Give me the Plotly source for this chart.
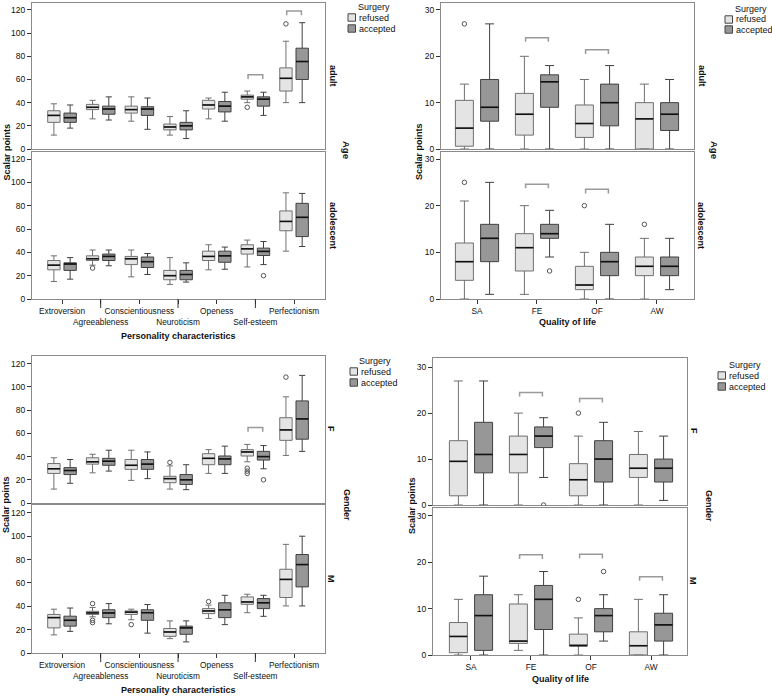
import plotly.graph_objects as go

# ---------------- data ----------------
pers_cats = ["Extroversion", "Agreeableness", "Conscientiousness", "Neuroticism",
             "Openess", "Self-esteem", "Perfectionism"]
qol_cats = ["SA", "FE", "OF", "AW"]

# stats per category: (lower whisker, Q1, median, Q3, upper whisker)
adult_pers_refused = [(12, 23, 29, 33, 39), (26, 34, 36, 38.5, 42), (24, 31, 34, 37, 45),
                      (12, 16.5, 19, 21.5, 28), (26, 34.5, 38, 42, 44), (40, 43, 45, 46.5, 50),
                      (40, 50, 61, 70, 93)]
adult_pers_accepted = [(18, 23, 27, 31, 38), (25, 30, 34.5, 37, 45), (17, 29, 34.5, 36.5, 44),
                       (9, 16.5, 20, 23, 33), (24, 32, 37, 41, 49), (29, 37, 43, 45, 49),
                       (40, 60, 75.5, 87, 109)]
adult_pers_refused_out = [(5, 36), (6, 108)]
adult_pers_accepted_out = []
adult_pers_brackets = [(5, 64), (6, 119)]

adol_pers_refused = [(15, 25, 29, 33, 37), (29, 33, 34.5, 37, 42), (19, 29.5, 34.5, 36.5, 42),
                     (12.5, 16.5, 20, 24.5, 35.5), (25, 33, 36.5, 41, 46.5),
                     (27.5, 38.5, 43, 46.5, 50.5), (41, 58.5, 66.5, 75.5, 91)]
adol_pers_accepted = [(17, 24.5, 30, 31, 35.5), (28.5, 33, 36.5, 38.5, 42), (21, 27, 32, 36, 39),
                      (14.5, 16.5, 21, 24.5, 31), (25.5, 31.5, 37, 41, 44.5),
                      (29.5, 37.3, 40.8, 43.6, 49.3), (45, 53.5, 70, 82, 90.5)]
adol_pers_refused_out = [(1, 26.5)]
adol_pers_accepted_out = [(5, 20)]
adol_pers_brackets = []

adult_qol_refused = [(0, 0.6, 4.5, 10.5, 14), (0, 3, 7.5, 12, 20), (0, 2.5, 5.5, 9.5, 15), (0, 0, 6.5, 10, 14)]
adult_qol_accepted = [(0, 6, 9, 15, 27), (0, 9, 14.5, 16, 18), (0, 5, 10, 14, 18), (0, 4, 7.5, 10, 15)]
adult_qol_refused_out = [(0, 27)]
adult_qol_accepted_out = []
adult_qol_brackets = [(1, 24), (2, 21.4)]

adol_qol_refused = [(0, 4, 8, 12, 21), (1, 6, 11, 14, 20), (0, 2, 3, 7, 10), (0, 5, 7, 9, 13)]
adol_qol_accepted = [(1, 8, 13, 16, 25), (9, 13, 14, 16, 19), (0, 5, 8, 10, 16), (2, 5, 7, 9, 13)]
adol_qol_refused_out = [(0, 25), (2, 20), (3, 16)]
adol_qol_accepted_out = [(1, 6)]
adol_qol_brackets = [(1, 24.6), (2, 23.5)]

f_pers_refused = [(12, 25.5, 29.5, 34, 39), (26, 33.5, 35.5, 39, 42), (19.5, 29, 32.5, 37.5, 45.5),
                  (12, 17.5, 21, 23, 32), (25.5, 33, 38.5, 42.5, 46), (35.5, 40.5, 44, 46, 50.5),
                  (41, 54, 63, 73.5, 91.5)]
f_pers_accepted = [(17, 24.5, 28, 30.5, 37.5), (27.5, 32.5, 36, 38.5, 45.5), (21, 29, 33.5, 37.5, 44),
                   (11.5, 16, 20, 24.5, 33), (25.5, 33, 38, 40.5, 49), (29.5, 37, 40, 44.5, 49.5),
                   (44.5, 55, 72.5, 88, 110)]
f_pers_refused_out = [(3, 35), (5, 30), (5, 27.5), (5, 25.5), (6, 108.5)]
f_pers_accepted_out = [(5, 20)]
f_pers_brackets = [(5, 65)]

m_pers_refused = [(15.5, 21.5, 30.3, 33, 37.5), (31, 33, 34.3, 35.7, 39), (28.5, 33, 35, 36, 37.5),
                  (12.3, 14.3, 18, 21, 27.5), (29.5, 33.7, 36, 38, 41), (34.5, 41.7, 43.7, 48, 50.3),
                  (40.3, 47.5, 63, 71.7, 93)]
m_pers_accepted = [(18.5, 23, 28, 31.5, 38.5), (25, 30.3, 34.3, 37, 42.3), (17, 28, 34.5, 37, 41.5),
                   (9.5, 16, 21.5, 23, 27.5), (24.3, 30.3, 37, 43, 49.4), (31.4, 38, 43, 46.6, 49.4),
                   (40.3, 56.6, 75.7, 84.3, 100)]
m_pers_refused_out = [(1, 42.3), (1, 28), (1, 26), (2, 24.3), (4, 44)]
m_pers_accepted_out = []
m_pers_brackets = []

f_qol_refused = [(0, 2, 9.5, 14, 27), (0, 7, 11, 15, 20), (0, 2, 5.5, 9, 15), (0, 6, 8, 11, 16)]
f_qol_accepted = [(0, 7, 11, 18, 27), (6, 12.5, 15, 17, 19), (0, 5, 10, 14, 18), (1, 5, 8, 10, 15)]
f_qol_refused_out = [(2, 20)]
f_qol_accepted_out = [(1, 0)]
f_qol_brackets = [(1, 24.5), (2, 23.2)]

m_qol_refused = [(0, 0.5, 4, 7, 12), (1, 2.5, 3, 11, 13), (0, 2, 2, 4.5, 8), (0, 0, 2, 5, 12)]
m_qol_accepted = [(0, 1, 8.5, 13, 17), (0, 5.5, 12, 15, 18), (3, 5, 8.5, 10, 13), (0, 3, 6.5, 9, 13)]
m_qol_refused_out = [(2, 12)]
m_qol_accepted_out = [(2, 18)]
m_qol_brackets = [(1, 21.6), (2, 21.7), (3, 16.9)]

pers_yticks = [0, 20, 40, 60, 80, 100, 120]
qol_yticks = [0, 10, 20, 30]

# ---------------- style ----------------
W, H = 772, 697
FONT = "Liberation Sans, Arial, sans-serif"
REF_FILL, ACC_FILL = "#e4e4e4", "#979797"
REF_LINE, ACC_LINE = "#707070", "#404040"
FRAME = "#8a8a8a"
OFF = 0.21


def fx(px):
    return px / W


def fy(py):
    return 1 - py / H


panels = [
    dict(cats=pers_cats, ref=adult_pers_refused, acc=adult_pers_accepted, ro=adult_pers_refused_out,
         ao=adult_pers_accepted_out, br=adult_pers_brackets, xd=(32, 325), yd=(3, 149),
         xr=(-0.776, 6.8), yr=(0, 126), yt=pers_yticks, bottom=False, bw=0.32),
    dict(cats=pers_cats, ref=adol_pers_refused, acc=adol_pers_accepted, ro=adol_pers_refused_out,
         ao=adol_pers_accepted_out, br=adol_pers_brackets, xd=(32, 325), yd=(152, 299),
         xr=(-0.776, 6.8), yr=(0, 126), yt=pers_yticks, bottom=True, bw=0.32),
    dict(cats=qol_cats, ref=adult_qol_refused, acc=adult_qol_accepted, ro=adult_qol_refused_out,
         ao=adult_qol_accepted_out, br=adult_qol_brackets, xd=(441, 694), yd=(3, 149),
         xr=(-0.6, 3.617), yr=(0, 31.5), yt=qol_yticks, bottom=False, bw=0.30),
    dict(cats=qol_cats, ref=adol_qol_refused, acc=adol_qol_accepted, ro=adol_qol_refused_out,
         ao=adol_qol_accepted_out, br=adol_qol_brackets, xd=(441, 694), yd=(152, 299),
         xr=(-0.6, 3.617), yr=(0, 31.5), yt=qol_yticks, bottom=True, bw=0.30),
    dict(cats=pers_cats, ref=f_pers_refused, acc=f_pers_accepted, ro=f_pers_refused_out,
         ao=f_pers_accepted_out, br=f_pers_brackets, xd=(32, 325), yd=(356, 503),
         xr=(-0.776, 6.8), yr=(0, 126.7), yt=pers_yticks, bottom=False, bw=0.32),
    dict(cats=pers_cats, ref=m_pers_refused, acc=m_pers_accepted, ro=m_pers_refused_out,
         ao=m_pers_accepted_out, br=m_pers_brackets, xd=(32, 325), yd=(505, 653),
         xr=(-0.776, 6.8), yr=(0, 126.7), yt=pers_yticks, bottom=True, bw=0.32),
    dict(cats=qol_cats, ref=f_qol_refused, acc=f_qol_accepted, ro=f_qol_refused_out,
         ao=f_qol_accepted_out, br=f_qol_brackets, xd=(433, 687), yd=(358, 505),
         xr=(-0.633, 3.6), yr=(0, 32), yt=qol_yticks, bottom=False, bw=0.30),
    dict(cats=qol_cats, ref=m_qol_refused, acc=m_qol_accepted, ro=m_qol_refused_out,
         ao=m_qol_accepted_out, br=m_qol_brackets, xd=(433, 687), yd=(508, 655),
         xr=(-0.633, 3.6), yr=(0, 31.7), yt=qol_yticks, bottom=True, bw=0.30),
]

fig = go.Figure()
shapes = []
layout_axes = {}

for i, p in enumerate(panels, start=1):
    xa, ya = f"x{i}", f"y{i}"
    n = len(p["cats"])
    bw = p["bw"]
    for stats, sign, fill, line in ((p["ref"], -1, REF_FILL, REF_LINE), (p["acc"], 1, ACC_FILL, ACC_LINE)):
        pos = [k + sign * OFF for k in range(n)]
        fig.add_trace(go.Box(
            x=pos, lowerfence=[s[0] for s in stats], q1=[s[1] for s in stats],
            median=[s[2] for s in stats], q3=[s[3] for s in stats],
            upperfence=[s[4] for s in stats], width=bw, whiskerwidth=0.5,
            fillcolor=fill, line=dict(color=line, width=1), boxpoints=False,
            xaxis=xa, yaxis=ya, showlegend=False, hoverinfo="skip"))
        mx, my = [], []
        for ps, s in zip(pos, stats):
            mx += [ps - bw / 2, ps + bw / 2, None]
            my += [s[2], s[2], None]
        fig.add_trace(go.Scatter(x=mx, y=my, mode="lines", line=dict(color="#111111", width=1.6),
                                 xaxis=xa, yaxis=ya, showlegend=False, hoverinfo="skip"))
    for outs, sign in ((p["ro"], -1), (p["ao"], 1)):
        if outs:
            fig.add_trace(go.Scatter(
                x=[k + sign * OFF for k, v in outs], y=[v for k, v in outs], mode="markers",
                marker=dict(symbol="circle-open", size=4.5, color="#555555", line=dict(width=1)),
                xaxis=xa, yaxis=ya, showlegend=False, hoverinfo="skip"))
    if p["br"]:
        d = 0.028 * p["yr"][1]
        bx, by = [], []
        for k, h in p["br"]:
            bx += [k - 0.19, k - 0.19, k + 0.19, k + 0.19, None]
            by += [h - d, h, h, h - d, None]
        fig.add_trace(go.Scatter(x=bx, y=by, mode="lines", line=dict(color="#9a9a9a", width=1.5),
                                 xaxis=xa, yaxis=ya, showlegend=False, hoverinfo="skip"))

    left_panel = (n == 7)
    if p["bottom"]:
        if left_panel:
            ttext = [c if k % 2 == 0 else " <br>" + c for k, c in enumerate(p["cats"])]
        else:
            ttext = list(p["cats"])
        xdict = dict(tickvals=list(range(n)), ticktext=ttext, ticks="outside", ticklen=4,
                     tickangle=0, tickcolor="#333333", tickfont=dict(size=8.3, color="#111111"))
        if left_panel:
            for k in range(1, n, 2):
                shapes.append(dict(type="line", xref=xa, yref="paper", x0=k, x1=k,
                                   y0=fy(p["yd"][1]), y1=fy(p["yd"][1] + 9),
                                   line=dict(color="#333333", width=1)))
    else:
        xdict = dict(tickvals=[], ticks="", showticklabels=False)
    layout_axes[f"xaxis{i}"] = dict(
        domain=[fx(p["xd"][0]), fx(p["xd"][1])], range=list(p["xr"]), anchor=ya,
        showline=True, mirror=True, linecolor=FRAME, linewidth=1, showgrid=False,
        zeroline=False, fixedrange=True, automargin=False, **xdict)
    layout_axes[f"yaxis{i}"] = dict(
        domain=[fy(p["yd"][1]), fy(p["yd"][0])], range=list(p["yr"]), anchor=xa,
        showline=True, mirror=True, linecolor=FRAME, linewidth=1, showgrid=False,
        zeroline=False, tickvals=p["yt"], ticks="outside", ticklen=4, tickcolor="#333333",
        tickfont=dict(size=8.5, color="#111111"), fixedrange=True, automargin=False)

ann = []


def txt(text, x, y, size=9, bold=True, angle=0, xanchor="center"):
    ann.append(dict(text=f"<b>{text}</b>" if bold else text, x=fx(x), y=fy(y), xref="paper",
                    yref="paper", showarrow=False, textangle=angle, xanchor=xanchor,
                    yanchor="middle", font=dict(size=size, color="#111111", family=FONT)))


# axis titles
txt("Personality characteristics", 178, 336)
txt("Personality characteristics", 178, 690)
txt("Quality of life", 567, 322)
txt("Quality of life", 560, 679)
txt("Scalar points", 6.5, 152, angle=-90)
txt("Scalar points", 419, 152, angle=-90)
txt("Scalar points", 6, 505, angle=-90)
txt("Scalar points", 412, 506, angle=-90)
# facet labels
txt("adult", 333, 76, angle=90)
txt("adolescent", 333, 225, angle=90)
txt("Age", 347, 150, size=9.5, angle=90)
txt("adult", 702, 76, angle=90)
txt("adolescent", 701, 225, angle=90)
txt("Age", 715, 150, size=9.5, angle=90)
txt("F", 331, 429, angle=90)
txt("M", 331, 579, angle=90)
txt("Gender", 347, 505, angle=90)
txt("F", 694, 431, angle=90)
txt("M", 693, 581, angle=90)
txt("Gender", 709, 506, angle=90)

# legends: (title x, title y, square x, refused y, accepted y)
legends = [(356, 7, 348, 17.5, 28.5), (733, 9, 725, 19.5, 29.5),
           (357, 361, 350, 371.5, 382.5), (727, 365, 718, 375.5, 386.5)]
for tx, ty, sx, ry, ay in legends:
    txt("Surgery", tx, ty, bold=False, xanchor="left")
    for label, yy, fill in (("refused", ry, REF_FILL), ("accepted", ay, ACC_FILL)):
        shapes.append(dict(type="rect", xref="paper", yref="paper", x0=fx(sx), x1=fx(sx + 7.5),
                           y0=fy(yy + 3.7), y1=fy(yy - 3.7), fillcolor=fill,
                           line=dict(color="#444444", width=1)))
        txt(label, sx + 8.5, yy, bold=False, xanchor="left")

fig.update_layout(
    width=W, height=H, autosize=False, margin=dict(l=0, r=0, t=0, b=0, autoexpand=False),
    paper_bgcolor="white", plot_bgcolor="white",
    font=dict(family=FONT, size=10, color="#111111"),
    showlegend=False, shapes=shapes, annotations=ann, **layout_axes)

fig.write_html("out.html")
